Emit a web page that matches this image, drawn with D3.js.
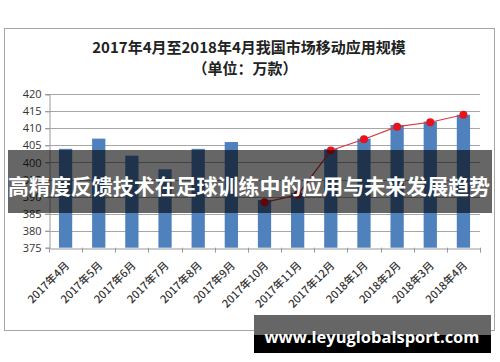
<!DOCTYPE html>
<html><head><meta charset="utf-8">
<script src="https://cdn.jsdelivr.net/npm/d3@7"></script>
<style>
html,body{margin:0;padding:0;background:#fff;}
svg{display:block;}
</style></head>
<body>
<svg id="c" width="500" height="362"></svg>
<script>
const categories = ["2017年4月","2017年5月","2017年6月","2017年7月","2017年8月","2017年9月","2017年10月","2017年11月","2017年12月","2018年1月","2018年2月","2018年3月","2018年4月"];
const barValues = [404, 407, 402, 398, 404, 406, 389, 391, 404, 407, 411, 412, 414];
const lineValues = [null, null, null, null, null, null, 388.3, 390.5, 403.5, 406.8, 410.5, 411.8, 414];
const yTicks = [375, 380, 385, 390, 395, 400, 405, 410, 415, 420];
const titleLines = ["2017年4月至2018年4月我国市场移动应用规模", "（单位：万款）"];
const overlayText = "高精度反馈技术在足球训练中的应用与未来发展趋势";
const watermark = "www.leyuglobalsport.com";

const svg = d3.select("#c");
const cjk = "'Noto Sans CJK SC','Noto Sans',sans-serif";

// frame
svg.append("rect").attr("x",4.5).attr("y",28.5).attr("width",490).attr("height",302)
  .attr("fill","#fff").attr("stroke","#a6a6a6").attr("stroke-width",1);

// title
svg.append("text").attr("x",249).attr("y",53).attr("text-anchor","middle")
  .attr("font-family",cjk).attr("font-weight","bold").attr("font-size",15).attr("fill","#222")
  .text(titleLines[0]);
svg.append("text").attr("x",245).attr("y",73.5).attr("text-anchor","middle")
  .attr("font-family",cjk).attr("font-weight","bold").attr("font-size",15).attr("fill","#222")
  .text(titleLines[1]);

const x = d3.scaleBand().domain(categories).range([49,480]).paddingInner(0.6).paddingOuter(0.3);
const xb = d3.scaleBand().domain(categories).range([49,480]);
const y = d3.scaleLinear().domain([375,420]).range([247.7,94.3]);

// gridlines
svg.append("g").selectAll("line").data(yTicks.filter(t=>t>375)).join("line")
  .attr("x1",45).attr("x2",480).attr("y1",d=>Math.round(y(d))+0.5).attr("y2",d=>Math.round(y(d))+0.5)
  .attr("stroke","#a6a6a6").attr("stroke-width",1);

// y axis
const ya = svg.append("g").attr("transform","translate(49.5,0)")
  .call(d3.axisLeft(y).tickValues(yTicks).tickSize(4).tickPadding(4));
ya.select(".domain").attr("stroke","#999");
ya.selectAll(".tick line").attr("stroke","#999");
ya.selectAll(".tick text").attr("font-family","'Open Sans',sans-serif").attr("font-size",11).attr("fill","#333");

// bars
svg.append("g").selectAll("rect").data(barValues).join("rect")
  .attr("x",(d,i)=>x(categories[i])).attr("width",x.bandwidth())
  .attr("y",d=>y(d)).attr("height",d=>y(375)-y(d))
  .attr("fill","#4f81bd");

// x axis
const xa = svg.append("g").attr("transform",`translate(0,${Math.round(y(375))+0.5})`)
  .call(d3.axisBottom(xb).tickSize(0).tickFormat(""));
xa.select(".domain").attr("stroke","#999");
svg.append("g").selectAll("line").data(categories.concat([null])).join("line")
  .attr("x1",(d,i)=>Math.round(49+i*xb.step())+0.5).attr("x2",(d,i)=>Math.round(49+i*xb.step())+0.5)
  .attr("y1",y(375)).attr("y2",y(375)+5).attr("stroke","#999");
svg.append("g").selectAll("text").data(categories).join("text")
  .attr("transform",d=>`translate(${xb(d)+xb.bandwidth()/2+1},${y(375)+15}) rotate(-45)`)
  .attr("text-anchor","end").attr("dominant-baseline","central")
  .attr("font-family",cjk).attr("font-size",11).attr("font-weight",500).attr("fill","#333")
  .text(d=>d);

// line
const pts = lineValues.map((v,i)=>({v,i})).filter(d=>d.v!==null);
const lg = d3.line().x(d=>xb(categories[d.i])+xb.bandwidth()/2).y(d=>y(d.v));
svg.append("path").datum(pts).attr("d",lg).attr("fill","none").attr("stroke","#d9363e").attr("stroke-width",1.2);
svg.append("g").selectAll("circle").data(pts).join("circle")
  .attr("cx",d=>xb(categories[d.i])+xb.bandwidth()/2).attr("cy",d=>y(d.v)).attr("r",4)
  .attr("fill","#e8121b");

// overlay band
svg.append("rect").attr("x",8).attr("y",150).attr("width",484).attr("height",63)
  .attr("fill","#000").attr("opacity",0.6);
svg.append("text").attr("x",249).attr("y",185).attr("text-anchor","middle").attr("dominant-baseline","central")
  .attr("font-family",cjk).attr("font-weight","bold").attr("font-size",21).attr("fill","#fff")
  .attr("textLength",482).attr("lengthAdjust","spacingAndGlyphs")
  .text(overlayText);

// watermark
svg.append("rect").attr("x",254).attr("y",315).attr("width",237).attr("height",38).attr("fill","#000");
svg.append("rect").attr("x",254).attr("y",315).attr("width",237).attr("height",20).attr("fill","#666");
svg.append("text").attr("x",372).attr("y",337).attr("text-anchor","middle").attr("dominant-baseline","central")
  .attr("font-family","'Open Sans',sans-serif").attr("font-weight","bold").attr("font-size",16).attr("fill","#fff")
  .attr("textLength",215).attr("lengthAdjust","spacingAndGlyphs")
  .text(watermark);
</script>
</body></html>
